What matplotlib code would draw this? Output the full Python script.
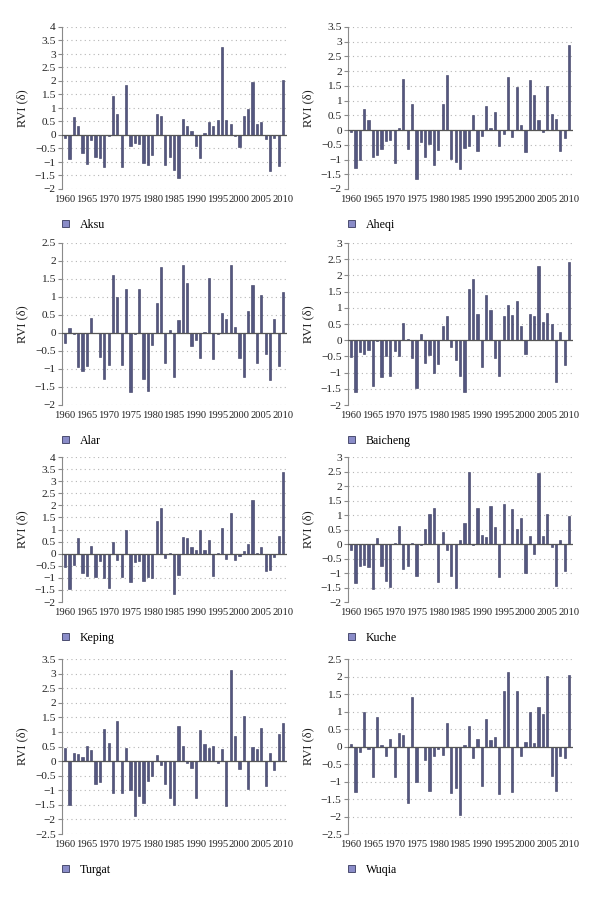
#!/usr/bin/env python3
"""RVI (delta) anomaly bars for eight stations, 1960-2010, 4x2 panel grid."""
import matplotlib

matplotlib.use("Agg")
import matplotlib.pyplot as plt
from matplotlib.patches import Patch
import numpy as np

plt.rcParams["font.family"] = ["Liberation Serif", "DejaVu Serif"]

years = np.arange(1960, 2011)
tick_years = ["1960", "1965", "1970", "1975", "1980", "1985",
              "1990", "1995", "2000", "2005", "2010"]

aksu = [-0.10, -0.90, 0.68, 0.35, -0.68, -1.08, -0.18, -0.80, -0.85, -1.20,
        -0.02, 1.45, 0.78, -1.18, 1.85, -0.42, -0.30, -0.35, -1.05, -1.10,
        -0.75, 0.77, 0.70, -1.12, -0.82, -1.28, -1.60, 0.58, 0.35, 0.15,
        -0.42, -0.85, 0.08, 0.48, 0.33, 0.57, 3.25, 0.57, 0.42, -0.05,
        -0.45, 0.72, 0.97, 1.97, 0.42, 0.48, -0.15, -1.32, -0.12, -1.15,
        2.03]
aheqi = [-0.05, -1.28, -1.00, 0.72, 0.33, -0.92, -0.85, -0.65, -0.38, -0.35,
         -1.12, 0.07, 1.75, -0.65, 0.88, -1.65, -0.40, -0.92, -0.47, -1.20,
         -0.68, 0.88, 1.88, -0.98, -1.10, -1.32, -0.62, -0.55, 0.52, -0.70,
         -0.20, 0.82, 0.08, 0.63, -0.55, -0.12, 1.80, -0.22, 1.45, 0.17,
         -0.75, 1.70, 1.18, 0.33, -0.05, 1.50, 0.55, 0.38, -0.70, -0.28,
         2.88]
alar = [-0.28, 0.15, -0.02, -0.95, -1.05, -0.92, 0.43, -0.01, -0.68, -1.28,
        -0.90, 1.62, 1.00, -0.90, 1.23, -1.65, -0.03, 1.22, -1.28, -1.60,
        -0.32, 0.82, 1.82, -0.82, 0.07, -1.22, 0.35, 1.88, 1.38, -0.37,
        -0.20, -0.70, 0.03, 1.53, -0.72, -0.02, 0.55, 0.40, 1.90, 0.17,
        -0.70, -1.22, 0.62, 1.32, -0.82, 1.05, -0.57, -1.30, 0.40, -0.93,
        1.15]
baicheng = [-0.52, -1.60, -0.35, -0.42, -0.30, -1.40, -0.02, -1.15, -0.48, -1.10,
            -0.32, -0.50, 0.52, 0.03, -0.55, -1.48, 0.20, -0.70, -0.45, -1.00,
            -0.75, 0.45, 0.75, -0.20, -0.62, -1.10, -1.60, 1.58, 1.90, 0.80,
            -0.82, 1.38, 0.93, -0.55, -1.10, 0.75, 1.10, 0.78, 1.22, 0.45,
            -0.42, 0.80, 0.76, 2.28, 0.57, 0.83, 0.50, -1.28, 0.25, -0.78,
            2.42]
keping = [-0.55, -1.45, -0.47, 0.65, -0.82, -0.92, 0.30, -0.98, -0.30, -1.00,
          -1.42, 0.48, -0.25, -0.95, 0.97, -1.18, -0.35, -0.30, -1.15, -0.98,
          -1.00, 1.35, 1.90, -0.18, 0.03, -1.68, -0.88, 0.70, 0.63, 0.27,
          0.15, 0.98, 0.17, 0.58, -0.93, 0.02, 1.05, -0.22, 1.70, -0.25,
          -0.10, 0.13, 0.38, 2.23, 0.03, 0.28, -0.72, -0.68, -0.12, 0.75,
          3.38]
kuche = [-0.20, -1.35, -0.75, -0.72, -0.80, -1.55, 0.22, -0.75, -1.28, -1.48,
         0.05, 0.62, -0.87, -0.77, 0.05, -1.12, -0.05, 0.52, 1.05, 1.23,
         -1.30, 0.43, -0.20, -1.12, -1.50, 0.15, 0.73, 2.47, -0.03, 1.25,
         0.30, 0.25, 1.30, 0.57, -1.13, 1.38, 0.01, 1.22, 0.52, 0.90,
         -1.00, 0.28, -0.35, 2.45, 0.28, 1.05, -0.12, -1.45, 0.15, -0.93,
         0.97]
turgat = [0.45, -1.52, 0.28, 0.25, 0.13, 0.53, 0.37, -0.80, -0.70, 1.10,
          0.63, -1.08, 1.37, -1.08, 0.45, -0.98, -1.88, -1.20, -1.42, -0.67,
          -0.50, 0.22, -0.15, -0.78, -1.28, -1.50, 1.20, 0.53, -0.07, -0.22,
          -1.25, 1.05, 0.60, 0.45, 0.52, -0.08, 0.40, -1.55, 3.12, 0.87,
          -0.27, 1.53, -0.95, 0.48, 0.43, 1.13, -0.85, 0.28, -0.30, 0.92,
          1.32]
wuqia = [0.07, -1.30, -0.15, 0.98, -0.07, -0.88, 0.85, 0.05, -0.28, 0.22,
         -0.88, 0.38, 0.32, -1.60, 1.42, -1.02, -0.01, -0.38, -1.27, -0.27,
         -0.08, -0.23, 0.67, -1.33, -1.18, -1.95, 0.03, 0.58, -0.32, 0.22,
         -1.12, 0.78, 0.18, 0.28, -1.37, 1.60, 2.13, -1.30, 1.58, -0.28,
         0.13, 0.98, 0.10, 1.13, 0.92, 2.02, -0.83, -1.27, -0.28, -0.32,
         2.05]

stations = ["Aksu", "Aheqi", "Alar", "Baicheng", "Keping", "Kuche", "Turgat", "Wuqia"]
series = [aksu, aheqi, alar, baicheng, keping, kuche, turgat, wuqia]
y_ranges = [(-2, 4), (-2, 3.5), (-2, 2.5), (-2, 3), (-2, 4), (-2, 3), (-2.5, 3.5), (-2.5, 2.5)]

BAR = "#545780"
EDGE = "#383a5e"
LEGEND_FILL = "#8a8cc8"
GRAY = "#8a8a8a"

W, H = 600, 897
# pixel boxes of the plotting areas
col_x = [(62, 287), (348, 573)]
row_y = [(27, 189), (243, 405), (457, 602), (659, 834)]


def fmt(v: float) -> str:
    s = f"{abs(v):g}"
    return ("\u2212" + s) if v < 0 else s


fig = plt.figure(figsize=(W / 100, H / 100), dpi=100)

for i, (name, vals, (lo, hi)) in enumerate(zip(stations, series, y_ranges)):
    r, c = divmod(i, 2)
    x0, x1 = col_x[c]
    top, bot = row_y[r]
    ax = fig.add_axes([x0 / W, 1 - bot / H, (x1 - x0) / W, (bot - top) / H])

    idx = np.arange(len(years))
    ax.bar(idx, vals, width=0.5, color=BAR, edgecolor=EDGE, linewidth=0.4, zorder=3)
    ax.axhline(0, color="#555555", linewidth=0.9, zorder=4)

    ax.set_xlim(-0.7, 50.9)
    ax.set_ylim(lo, hi)
    yt = np.arange(lo, hi + 0.01, 0.5)
    ax.set_yticks(yt)
    ax.set_yticklabels([fmt(v) for v in yt])
    ax.set_xticks(idx[::5])
    ax.set_xticklabels(tick_years)

    ax.grid(axis="y", color="#b5b5b5", linestyle=(0, (1, 3)), linewidth=0.8, zorder=1)
    for side in ("top", "right", "bottom"):
        ax.spines[side].set_visible(False)
    ax.spines["left"].set_color(GRAY)
    ax.spines["left"].set_linewidth(0.8)
    ax.tick_params(axis="y", direction="out", length=3, width=0.8, color=GRAY,
                   labelsize=8.2, labelcolor="#222222", pad=1.5)
    ax.tick_params(axis="x", length=0, labelsize=7.6, labelcolor="#222222", pad=4)

    ax.set_ylabel("RVI (δ)", fontsize=9, color="#222222")
    ax.yaxis.set_label_coords(-0.152, 0.5)

    handle = Patch(facecolor=LEGEND_FILL, edgecolor=EDGE, linewidth=0.6)
    leg_y = 1 - (bot + 36 - top) / (bot - top)
    ax.legend([handle], [name], loc="center left", bbox_to_anchor=(-0.02, leg_y),
              frameon=False, fontsize=8.6, handlelength=0.55, handleheight=0.55,
              handletextpad=0.9, borderaxespad=0)

fig.savefig("out.png", dpi=100)
